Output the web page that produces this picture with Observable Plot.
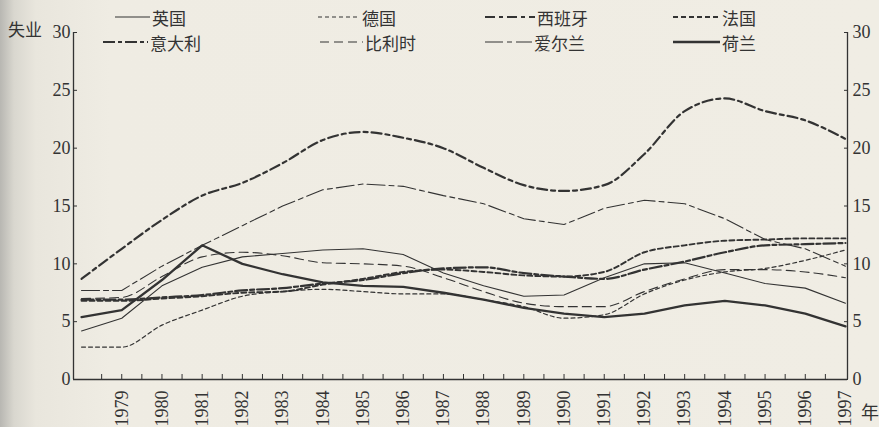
<!DOCTYPE html>
<html><head><meta charset="utf-8">
<script src="https://cdn.jsdelivr.net/npm/d3@7"></script>
<script src="https://cdn.jsdelivr.net/npm/@observablehq/plot@0.6"></script>
<style>
html,body{margin:0;padding:0;}
body{width:879px;height:427px;overflow:hidden;background:linear-gradient(to right,#b8b7b2 0px,#d9d7cf 14px,#e9e6dd 36px,#efece3 110px,#f0ede4 100%);}
#wrap{position:relative;width:879px;height:427px;}
#chart svg{display:block;}
#chart svg text{font-family:"Liberation Serif","DejaVu Serif",serif !important;}
#overlay{position:absolute;left:0;top:0;pointer-events:none;}
</style></head><body>
<div id="wrap"><div id="chart"></div><svg id="overlay" width="879" height="427"></svg></div>
<script>
// ---- data (unemployment rate, %) ----
const years = [1978,1979,1980,1981,1982,1983,1984,1985,1986,1987,1988,1989,1990,1991,1992,1993,1994,1995,1996,1997];
const tickYears = [1979,1980,1981,1982,1983,1984,1985,1986,1987,1988,1989,1990,1991,1992,1993,1994,1995,1996,1997];
const yTicks = [0,5,10,15,20,25,30];
const uk          = [4.2,5.3,8.1,9.7,10.6,10.9,11.2,11.3,10.8,9.2,8.1,7.2,7.3,8.8,10.0,10.1,9.2,8.3,7.9,6.6];
const germany     = [2.8,2.8,4.7,6.0,7.2,7.6,7.8,7.6,7.4,7.4,6.9,6.3,5.3,5.6,7.4,8.6,9.3,9.6,10.3,11.2];
const spain       = [8.7,11.3,13.8,15.9,17.0,18.7,20.7,21.4,20.9,20.0,18.3,16.8,16.3,16.8,19.5,23.2,24.3,23.2,22.4,20.8];
const france      = [6.8,6.8,7.0,7.2,7.5,7.6,8.2,8.7,9.3,9.5,9.3,9.0,8.9,9.3,11.0,11.6,12.0,12.1,12.2,12.2];
const italy       = [6.9,6.9,7.1,7.3,7.7,7.9,8.3,8.6,9.2,9.6,9.7,9.2,8.9,8.7,9.5,10.2,11.0,11.6,11.7,11.8];
const belgium     = [7.0,7.1,8.9,10.6,11.0,10.7,10.1,10.0,9.8,8.8,7.6,6.6,6.3,6.3,7.6,8.7,9.5,9.5,9.3,8.8];
const ireland     = [7.7,7.7,9.8,11.6,13.3,15.0,16.4,16.9,16.7,15.9,15.2,13.9,13.4,14.8,15.5,15.2,13.9,12.1,11.3,9.8];
const netherlands = [5.4,6.0,8.6,11.6,10.0,9.1,8.4,8.1,8.0,7.5,6.9,6.2,5.7,5.4,5.7,6.4,6.8,6.4,5.7,4.6];

const INK = "#333";
const series = [
  {name:"英国",   values:uk,          w:1.1, dash:null,        curve:"linear"},
  {name:"德国",   values:germany,     w:1.2, dash:"4,3",       curve:"monotone-x"},
  {name:"西班牙", values:spain,       w:2.2, dash:"10,4,4,4",  curve:"monotone-x"},
  {name:"法国",   values:france,      w:1.9, dash:"5,3",       curve:"monotone-x"},
  {name:"意大利", values:italy,       w:2.2, dash:"12,3,4,3",  curve:"monotone-x"},
  {name:"比利时", values:belgium,     w:1.1, dash:"9,5",       curve:"monotone-x"},
  {name:"爱尔兰", values:ireland,     w:1.1, dash:"18,4,5,4",  curve:"linear"},
  {name:"荷兰",   values:netherlands, w:2.3, dash:null,        curve:"linear"}
];

const halfTicks = [];
for (let t = 1978.5; t <= 1996.6; t += 0.5) halfTicks.push(t);

const x0 = 1977.8, x1 = 1997.05;
const serif = "Liberation Serif, DejaVu Serif, serif";

const plot = Plot.plot({
  width: 879, height: 427,
  marginLeft: 73, marginRight: 32, marginTop: 32, marginBottom: 48,
  style: {background: "transparent", color: INK, fontFamily: serif, fontSize: "18px"},
  x: {domain: [x0, x1]},
  y: {domain: [0, 30]},
  marks: [
    Plot.ruleX([x0, x1], {stroke: INK, strokeWidth: 1.3}),
    Plot.ruleY([0], {stroke: INK, strokeWidth: 1.3}),
    Plot.axisY({anchor: "left", ticks: yTicks, tickSize: -4, tickPadding: 7, fontSize: 18, fontFamily: serif, label: null, stroke: INK}),
    Plot.axisY({anchor: "right", ticks: yTicks, tickSize: -4, tickPadding: 9, fontSize: 18, fontFamily: serif, label: null, stroke: INK}),
    Plot.axisX({ticks: halfTicks, tickSize: -5, tickFormat: () => "", label: null, stroke: INK}),
    Plot.axisX({ticks: tickYears, tickSize: 0, tickPadding: 11, tickRotate: -90, tickFormat: d => String(d), fontSize: 18, fontFamily: serif, label: null}),
    ...series.map(s => Plot.line(years.map((yr, i) => ({year: yr, v: s.values[i]})), {
      x: "year", y: "v", stroke: INK, strokeWidth: s.w, strokeDasharray: s.dash, curve: s.curve
    }))
  ]
});
document.getElementById("chart").appendChild(plot);

// ---- legend & axis titles ----
const ov = d3.select("#overlay");
const legendPos = [
  {name:"英国",   x1:115, x2:150, y:17},
  {name:"德国",   x1:318, x2:360, y:17},
  {name:"意大利", x1:103, x2:148, y:42},
  {name:"比利时", x1:320, x2:363, y:42},
  {name:"西班牙", x1:485, x2:535, y:17},
  {name:"法国",   x1:673, x2:720, y:17},
  {name:"爱尔兰", x1:485, x2:532, y:42},
  {name:"荷兰",   x1:673, x2:720, y:42}
];
const cjk = "Noto Sans CJK SC, sans-serif";
legendPos.forEach(p => {
  const s = series.find(d => d.name === p.name);
  ov.append("line").attr("x1", p.x1).attr("x2", p.x2).attr("y1", p.y).attr("y2", p.y)
    .attr("stroke", INK).attr("stroke-width", s.w).attr("stroke-dasharray", s.dash);
  ov.append("text").attr("x", p.x2 + 2).attr("y", p.y).attr("dominant-baseline", "central")
    .attr("font-family", cjk).attr("font-size", 17).attr("fill", INK).text(p.name);
});
ov.append("text").attr("x", 8).attr("y", 28).attr("dominant-baseline", "central")
  .attr("font-family", cjk).attr("font-size", 17).attr("fill", INK).text("失业");
ov.append("text").attr("x", 861).attr("y", 411).attr("dominant-baseline", "central")
  .attr("font-family", cjk).attr("font-size", 18).attr("fill", INK).text("年");
</script>
</body></html>
